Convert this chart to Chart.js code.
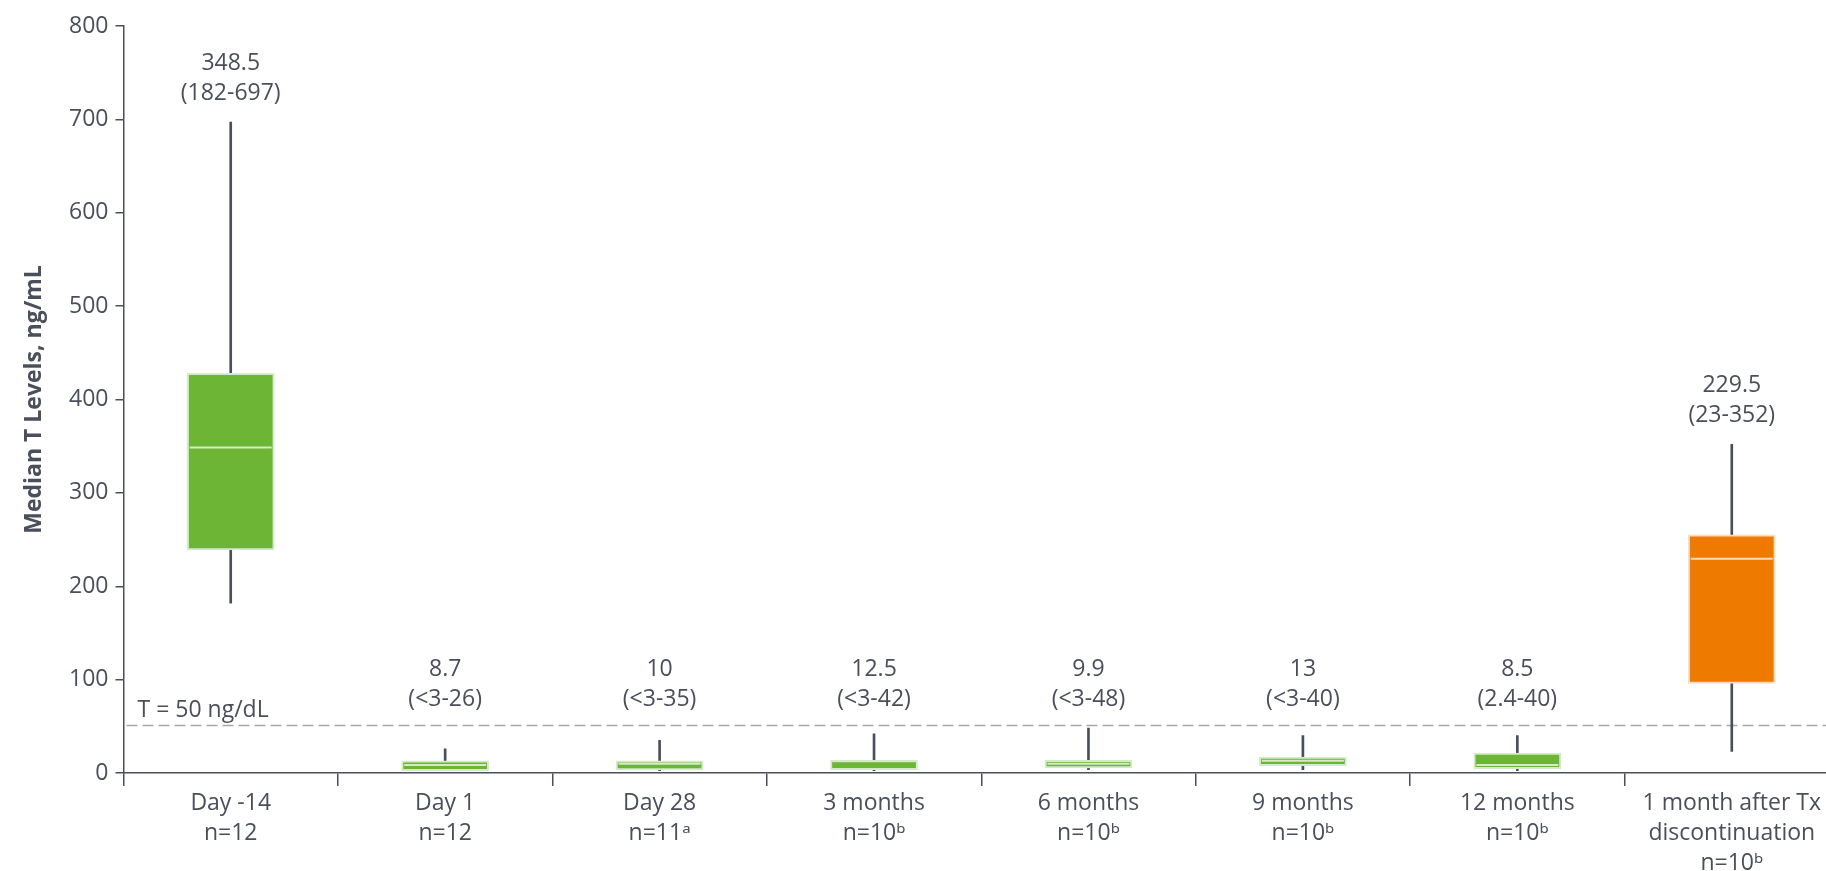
<!DOCTYPE html>
<html>
<head>
<meta charset="utf-8">
<title>Median T Levels</title>
<script src="https://cdn.jsdelivr.net/npm/chart.js@4/dist/chart.umd.min.js"></script>
<style>
  html, body { margin: 0; padding: 0; background: #fff; overflow: hidden; }
  #wrap { width: 1850px; height: 871px; position: relative; }
</style>
</head>
<body>
<div id="wrap"><canvas id="chart"></canvas></div>
<script>
// categories (x axis), each one a multi-line label
const categories = [
  ['Day -14', 'n=12'],
  ['Day 1', 'n=12'],
  ['Day 28', 'n=11\u1D43'],
  ['3 months', 'n=10\u1D47'],
  ['6 months', 'n=10\u1D47'],
  ['9 months', 'n=10\u1D47'],
  ['12 months', 'n=10\u1D47'],
  ['1 month after Tx', 'discontinuation', 'n=10\u1D47']
]

// box plot values
const minValues    = [182, 2.6, 2.6, 2.6, 3.6, 3.6, 2.4, 23]
const q1Values     = [239, 2.6, 3.2, 3.6, 5.4, 7.9, 4.7, 96]
const medianValues = [348.5, 8.7, 10, 12.5, 9.9, 13, 8.5, 229.5]
const q3Values     = [428, 12.9, 12.9, 13.6, 13.6, 17.1, 21.4, 255]
const maxValues    = [697, 26, 35, 42, 48, 40, 40, 352]

// texts above each whisker
const medianLabels = ['348.5', '8.7', '10', '12.5', '9.9', '13', '8.5', '229.5']
const rangeLabels  = ['(182-697)', '(<3-26)', '(<3-35)', '(<3-42)', '(<3-48)', '(<3-40)', '(2.4-40)', '(23-352)']

// threshold line
const thresholdValue = 51
const thresholdLabel = 'T = 50 ng/dL'
// small boxes get their labels at this height at least
const labelFloor = 48

const TEXT = '#4b4e5b'
const GREEN = '#6cb535'
const GREEN_LIGHT = '#d3ebc8'
const ORANGE = '#ef7a00'
const ORANGE_LIGHT = '#fcdcbc'
const FONT = "'Open Sans', 'Noto Sans', sans-serif"

const isOff = categories.map((c, i) => i === categories.length - 1)
const boxFill = isOff.map(o => o ? ORANGE : GREEN)
const boxEdge = isOff.map(o => o ? ORANGE_LIGHT : GREEN_LIGHT)

//linha tracejada do limite, desenhada antes das caixas
const thresholdPlugin = {
  id: 'threshold',
  beforeDatasetsDraw(chart){
    const {ctx, chartArea, scales} = chart
    const y = scales.y.getPixelForValue(thresholdValue)
    ctx.save()
    ctx.strokeStyle = '#a7a7a7'
    ctx.lineWidth = 1.5
    ctx.setLineDash([11, 5])
    ctx.beginPath()
    ctx.moveTo(chartArea.left + 3, y)
    ctx.lineTo(chartArea.right, y)
    ctx.stroke()
    ctx.setLineDash([])
    ctx.fillStyle = TEXT
    ctx.font = '23px ' + FONT
    ctx.textAlign = 'left'
    ctx.textBaseline = 'middle'
    ctx.fillText(thresholdLabel, chartArea.left + 14, y - 15)
    ctx.restore()
  }
}

//mediana e intervalo escritos acima de cada caixa
const labelsPlugin = {
  id: 'boxLabels',
  afterDatasetsDraw(chart){
    const {ctx, scales} = chart
    ctx.save()
    ctx.fillStyle = TEXT
    ctx.font = '23px ' + FONT
    ctx.textAlign = 'center'
    ctx.textBaseline = 'middle'
    categories.forEach((c, i) => {
      const x = scales.x.getPixelForValue(i)
      const top = scales.y.getPixelForValue(Math.max(maxValues[i], labelFloor))
      ctx.fillText(medianLabels[i], x, top - 59)
      ctx.fillText(rangeLabels[i], x, top - 29)
    })
    ctx.restore()
  }
}

const canvas = document.querySelector('canvas#chart')

new Chart(canvas, {
  type: 'bar',
  data: {
    labels: categories,
    datasets: [
      {
        type: 'line',
        label: 'Median',
        data: medianValues,
        showLine: false,
        pointStyle: 'line',
        pointRadius: 41,
        pointHoverRadius: 41,
        pointBorderWidth: 2,
        pointBorderColor: boxEdge,
        pointBackgroundColor: boxEdge,
        clip: false,
        order: 0
      },
      {
        label: 'IQR',
        data: q1Values.map((q1, i) => [q1, q3Values[i]]),
        backgroundColor: boxFill,
        borderColor: boxEdge,
        borderWidth: 2,
        borderSkipped: false,
        barThickness: 87,
        grouped: false,
        order: 1
      },
      {
        label: 'Range',
        data: minValues.map((mn, i) => [mn, maxValues[i]]),
        backgroundColor: '#4b4e5b',
        borderWidth: 0,
        barThickness: 2,
        grouped: false,
        order: 2
      }
    ]
  },
  options: {
    responsive: true,
    maintainAspectRatio: false,
    animation: false,
    layout: {
      autoPadding: false,
      padding: { top: 26, right: 11, left: 0, bottom: 0 }
    },
    plugins: {
      legend: { display: false },
      tooltip: { enabled: false }
    },
    scales: {
      x: {
        offset: true,
        afterFit(scale){ scale.height = 98 },
        border: { color: TEXT, width: 1.5 },
        grid: {
          offset: true,
          drawOnChartArea: false,
          tickLength: 13,
          color: TEXT,
          lineWidth: 1.5
        },
        ticks: {
          color: TEXT,
          padding: 3,
          maxRotation: 0,
          autoSkip: false,
          font: { family: FONT, size: 23, lineHeight: 1.3 }
        }
      },
      y: {
        min: 0,
        max: 800,
        afterFit(scale){ scale.width = 123.5 },
        border: { color: TEXT, width: 1.5 },
        grid: {
          drawOnChartArea: false,
          tickLength: 8,
          color: TEXT,
          lineWidth: 1.5
        },
        ticks: {
          stepSize: 100,
          color: TEXT,
          padding: 7,
          font: { family: FONT, size: 23 }
        },
        title: {
          display: true,
          text: 'Median T Levels, ng/mL',
          color: TEXT,
          padding: { top: 21, bottom: 0 },
          font: { family: FONT, size: 23, weight: 'bold' }
        }
      }
    }
  },
  plugins: [thresholdPlugin, labelsPlugin]
})
</script>
</body>
</html>
